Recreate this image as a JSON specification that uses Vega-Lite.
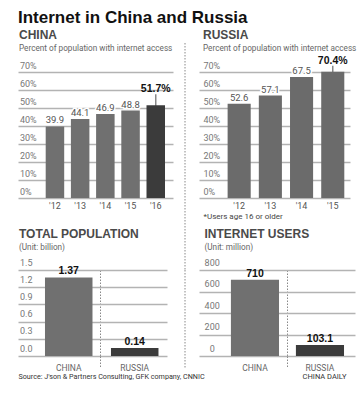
{
  "$schema": "https://vega.github.io/schema/vega-lite/v6.json",
  "padding": {"left": 18, "top": 9, "right": 5, "bottom": 5},
  "background": "white",
  "title": {"text": "Internet in China and Russia", "anchor": "start", "frame": "group", "fontSize": 17, "font": "Liberation Sans", "fontWeight": "bold", "color": "#111111", "offset": 2},
  "columns": 3,
  "spacing": {"row": 0, "column": 12},
  "bounds": "flush",
  "config": {
    "view": {"stroke": null},
    "font": "Roboto",
    "axis": {"domain": false, "ticks": false, "tickSize": 0, "title": null, "labelFont": "Roboto", "gridColor": "#b3b3b3", "gridWidth": 1.3},
    "title": {"anchor": "start", "font": "Liberation Sans", "fontSize": 12, "fontWeight": "bold", "color": "#4a4a4a", "subtitleFont": "Roboto", "subtitleFontSize": 8.2, "subtitleColor": "#666666", "subtitlePadding": 2.5}
  },
  "concat": [
    {
      "width": 155, "height": 155,
      "title": {"text": "CHINA", "subtitle": "Percent of population with internet access", "offset": -10, "dx": 1},
      "data": {"values": [
        {"year": "'12", "value": 39.9, "hl": "n"},
        {"year": "'13", "value": 44.1, "hl": "n"},
        {"year": "'14", "value": 46.9, "hl": "n"},
        {"year": "'15", "value": 48.8, "hl": "n"},
        {"year": "'16", "value": 51.7, "hl": "y"}
      ]},
      "transform": [{"calculate": "format(datum.value, '.1f') + '%'", "as": "pct"}],
      "encoding": {
        "x": {"field": "year", "type": "ordinal", "scale": {"paddingInner": 0.266, "paddingOuter": 0.708, "align": 0.776},
              "axis": {"labelAngle": 0, "labelPadding": 3, "labelFontSize": 9, "labelColor": "#555555", "grid": false}},
        "y": {"field": "value", "type": "quantitative", "scale": {"domain": [0, 86.45], "nice": false},
              "axis": {"values": [0, 10, 20, 30, 40, 50, 60, 70], "labelExpr": "datum.value + '%'", "grid": true, "labelAlign": "left", "labelBaseline": "alphabetic", "labelPadding": -1.5, "labelOffset": -4, "labelFontSize": 9, "labelColor": "#777777"}}
      },
      "layer": [
        {"transform": [{"filter": "datum.hl === 'y'"}], "mark": {"type": "tick", "orient": "vertical", "size": 22, "thickness": 1.5, "color": "#555555"}},
        {"mark": {"type": "bar"}, "encoding": {"color": {"condition": {"test": "datum.hl === 'y'", "value": "#3b3b3b"}, "value": "#707070"}}},
        {"transform": [{"filter": "datum.hl !== 'y'"}], "mark": {"type": "text", "dy": -3, "baseline": "alphabetic", "fontSize": 9.5, "stroke": "white", "strokeWidth": 3, "color": "white"}, "encoding": {"text": {"field": "value", "format": ".1f"}}},
        {"transform": [{"filter": "datum.hl !== 'y'"}], "mark": {"type": "text", "dy": -3, "baseline": "alphabetic", "fontSize": 9.5, "color": "#555555"}, "encoding": {"text": {"field": "value", "format": ".1f"}}},
        {"transform": [{"filter": "datum.hl === 'y'"}], "mark": {"type": "text", "dy": -13, "baseline": "alphabetic", "font": "Liberation Sans", "fontWeight": "bold", "fontSize": 10.5, "color": "#111111"}, "encoding": {"text": {"field": "pct"}}}
      ]
    },
    {
      "width": 2, "height": 227,
      "data": {"values": [{"v": 0}]},
      "mark": {"type": "rule", "strokeDash": [1.5, 1.5], "color": "#888888", "strokeWidth": 1},
      "encoding": {"x": {"field": "v", "type": "quantitative", "scale": {"domain": [0, 1]}, "axis": null}}
    },
    {
      "width": 151, "height": 155,
      "title": {"text": "RUSSIA", "subtitle": "Percent of population with internet access", "offset": -10, "dx": 4},
      "data": {"values": [
        {"year": "'12", "value": 52.6, "hl": "n"},
        {"year": "'13", "value": 57.1, "hl": "n"},
        {"year": "'14", "value": 67.5, "hl": "n"},
        {"year": "'15", "value": 70.4, "hl": "y"}
      ]},
      "transform": [{"calculate": "format(datum.value, '.1f') + '%'", "as": "pct"}],
      "encoding": {
        "x": {"field": "year", "type": "ordinal", "scale": {"paddingInner": 0.26, "paddingOuter": 0.55, "align": 0.834},
              "axis": {"labelAngle": 0, "labelPadding": 3, "labelFontSize": 9, "labelColor": "#555555", "grid": false,
                       "title": "*Users age 16 or older", "titleX": 4, "titleY": 20, "titleAlign": "left", "titleBaseline": "alphabetic", "titleFont": "Roboto", "titleFontSize": 8, "titleFontWeight": "normal", "titleColor": "#444444"}},
        "y": {"field": "value", "type": "quantitative", "scale": {"domain": [0, 86.45], "nice": false},
              "axis": {"values": [0, 10, 20, 30, 40, 50, 60, 70], "labelExpr": "datum.value + '%'", "grid": true, "labelAlign": "left", "labelBaseline": "alphabetic", "labelPadding": -4, "labelOffset": -4, "labelFontSize": 9, "labelColor": "#777777"}}
      },
      "layer": [
        {"transform": [{"filter": "datum.hl === 'y'"}], "mark": {"type": "tick", "orient": "vertical", "size": 12, "thickness": 1.5, "color": "#555555"}},
        {"mark": {"type": "bar", "color": "#6b6b6b"}},
        {"transform": [{"filter": "datum.hl !== 'y'"}], "mark": {"type": "text", "dy": -3, "baseline": "alphabetic", "fontSize": 9.5, "stroke": "white", "strokeWidth": 3, "color": "white"}, "encoding": {"text": {"field": "value", "format": ".1f"}}},
        {"transform": [{"filter": "datum.hl !== 'y'"}], "mark": {"type": "text", "dy": -3, "baseline": "alphabetic", "fontSize": 9.5, "color": "#555555"}, "encoding": {"text": {"field": "value", "format": ".1f"}}},
        {"transform": [{"filter": "datum.hl === 'y'"}], "mark": {"type": "text", "dy": -7.5, "baseline": "alphabetic", "font": "Liberation Sans", "fontWeight": "bold", "fontSize": 10.5, "color": "#111111"}, "encoding": {"text": {"field": "pct"}}}
      ]
    },
    {
      "width": 149, "height": 86,
      "title": {"text": "TOTAL POPULATION", "subtitle": "(Unit: billion)", "offset": 6, "dx": 1},
      "data": {"values": [
        {"country": "CHINA", "value": 1.37},
        {"country": "RUSSIA", "value": 0.14}
      ]},
      "encoding": {
        "x": {"field": "country", "type": "nominal", "sort": ["CHINA", "RUSSIA"], "scale": {"paddingInner": 0.28, "paddingOuter": 0.269, "align": 0.76},
              "axis": {"labelAngle": 0, "labelPadding": -4.5, "labelFontSize": 8.5, "labelColor": "#666666", "bandPosition": -0.21,
                       "grid": true, "gridDash": [1.5, 1.5], "gridColor": "#888888", "gridWidth": 1, "gridOpacity": {"condition": {"test": "datum.value === 'CHINA'", "value": 0}, "value": 1},
                       "ticks": true, "tickSize": 12, "tickDash": [1.5, 1.5], "tickColor": "#888888", "tickWidth": 1, "tickOpacity": {"condition": {"test": "datum.value === 'CHINA'", "value": 0}, "value": 1},
                       "title": "Source: J'son & Partners Consulting, GFK company, CNNIC", "titleX": 0, "titleY": 22.5, "titleAlign": "left", "titleBaseline": "alphabetic", "titleFont": "Roboto", "titleFontSize": 7.2, "titleFontWeight": "normal", "titleColor": "#333333"}},
        "y": {"field": "value", "type": "quantitative", "scale": {"domain": [0, 1.5], "nice": false},
              "axis": {"values": [0, 0.3, 0.6, 0.9, 1.2, 1.5], "format": ".1f", "grid": true, "labelAlign": "left", "labelBaseline": "alphabetic", "labelPadding": -1.5, "labelOffset": -5, "labelFontSize": 9, "labelColor": "#777777"}}
      },
      "layer": [
        {"mark": {"type": "bar"}, "encoding": {"color": {"condition": {"test": "datum.country === 'RUSSIA'", "value": "#3b3b3b"}, "value": "#707070"}}},
        {"mark": {"type": "text", "dy": -3, "baseline": "alphabetic", "font": "Liberation Sans", "fontWeight": "bold", "fontSize": 10.5, "color": "#111111"}, "encoding": {"text": {"field": "value"}}}
      ]
    },
    {
      "width": 2, "height": 98,
      "data": {"values": [{"v": 0}]},
      "mark": {"type": "rule", "strokeDash": [1.5, 1.5], "color": "#888888", "strokeWidth": 1},
      "encoding": {"x": {"field": "v", "type": "quantitative", "scale": {"domain": [0, 1]}, "axis": null}}
    },
    {
      "width": 156, "height": 86,
      "title": {"text": "INTERNET USERS", "subtitle": "(Unit: million)", "offset": 6, "dx": 5.5},
      "data": {"values": [
        {"country": "CHINA", "value": 710},
        {"country": "RUSSIA", "value": 103.1}
      ]},
      "encoding": {
        "x": {"field": "country", "type": "nominal", "sort": ["CHINA", "RUSSIA"], "scale": {"paddingInner": 0.26, "paddingOuter": 0.33, "align": 0.744},
              "axis": {"labelAngle": 0, "labelPadding": -4.5, "labelFontSize": 8.5, "labelColor": "#666666", "bandPosition": -0.177,
                       "grid": true, "gridDash": [1.5, 1.5], "gridColor": "#888888", "gridWidth": 1, "gridOpacity": {"condition": {"test": "datum.value === 'CHINA'", "value": 0}, "value": 1},
                       "ticks": true, "tickSize": 12, "tickDash": [1.5, 1.5], "tickColor": "#888888", "tickWidth": 1, "tickOpacity": {"condition": {"test": "datum.value === 'CHINA'", "value": 0}, "value": 1},
                       "title": "CHINA DAILY", "titleX": 147, "titleY": 22.5, "titleAlign": "right", "titleBaseline": "alphabetic", "titleFont": "Roboto", "titleFontSize": 7.5, "titleFontWeight": "normal", "titleColor": "#333333"}},
        "y": {"field": "value", "type": "quantitative", "scale": {"domain": [0, 800], "nice": false},
              "axis": {"values": [0, 200, 400, 600, 800], "grid": true, "labelAlign": "center", "labelBaseline": "alphabetic", "labelPadding": -12.7, "labelOffset": -5, "labelFontSize": 9, "labelColor": "#777777"}}
      },
      "layer": [
        {"mark": {"type": "bar"}, "encoding": {"color": {"condition": {"test": "datum.country === 'RUSSIA'", "value": "#3b3b3b"}, "value": "#707070"}}},
        {"mark": {"type": "text", "dy": -3, "baseline": "alphabetic", "font": "Liberation Sans", "fontWeight": "bold", "fontSize": 10.5, "color": "#111111"}, "encoding": {"text": {"field": "value"}}}
      ]
    }
  ]
}
